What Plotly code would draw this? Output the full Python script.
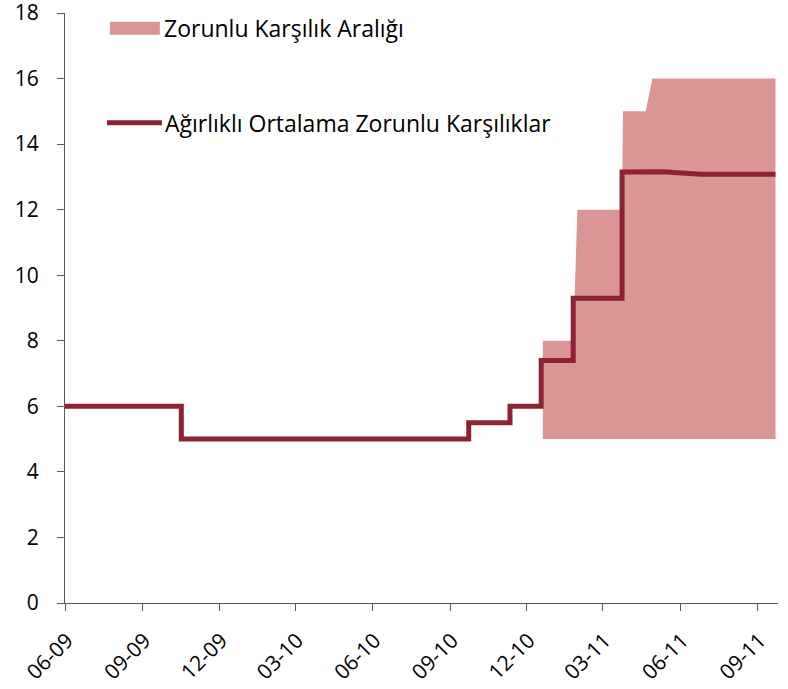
import plotly.graph_objects as go

# Weighted average required reserves (%)
line_dates = ["2009-06-01", "2009-10-17", "2009-10-17", "2010-09-23", "2010-09-23",
              "2010-11-11", "2010-11-11", "2010-12-18", "2010-12-18", "2011-01-25",
              "2011-01-25", "2011-03-24", "2011-03-24", "2011-04-14", "2011-04-27",
              "2011-05-12", "2011-06-25", "2011-09-22"]
line_values = [6, 6, 5, 5, 5.5, 5.5, 6, 6, 7.4, 7.4, 9.3, 9.3, 13.15, 13.16, 13.19,
               13.16, 13.08, 13.08]

# Required reserve range (%)
band_dates = ["2010-12-20", "2011-01-25", "2011-01-30", "2011-03-24", "2011-03-25",
              "2011-04-21", "2011-04-29", "2011-09-22"]
band_low = [5, 5, 5, 5, 5, 5, 5, 5]
band_high = [8, 8, 12, 12, 15, 15, 16, 16]

tick_vals = ["2009-06-01", "2009-09-01", "2009-12-01", "2010-03-01", "2010-06-01",
             "2010-09-01", "2010-12-01", "2011-03-01", "2011-06-01", "2011-09-01"]
tick_text = ["06-09", "09-09", "12-09", "03-10", "06-10", "09-10", "12-10", "03-11",
             "06-11", "09-11"]

band_name = "Zorunlu Karşılık Aralığı"
line_name = "Ağırlıklı Ortalama Zorunlu Karşılıklar"

BAND = "#D99694"
LINE = "#8C2232"
FONT = "Open Sans"

fig = go.Figure()
fig.add_trace(go.Scatter(x=band_dates, y=band_low, mode="lines", line=dict(width=0, color=BAND),
                         showlegend=False, hoverinfo="skip"))
fig.add_trace(go.Scatter(x=band_dates, y=band_high, mode="lines", line=dict(width=0, color=BAND),
                         fill="tonexty", fillcolor=BAND, name=band_name, showlegend=False))
fig.add_trace(go.Scatter(x=line_dates, y=line_values, mode="lines",
                         line=dict(width=5, color=LINE), name=line_name, showlegend=False))

# legend drawn manually (paper coords)
fig.add_shape(type="rect", xref="paper", yref="paper", x0=0.063, x1=0.133, y0=0.963, y1=0.985,
              fillcolor=BAND, line=dict(width=0))
fig.add_shape(type="line", xref="paper", yref="paper", x0=0.059, x1=0.136, y0=0.814, y1=0.814,
              line=dict(color=LINE, width=5))
fig.add_annotation(xref="paper", yref="paper", x=0.136, y=0.975, text=band_name,
                   showarrow=False, xanchor="left", yanchor="middle",
                   font=dict(family=FONT, size=23, color="black"))
fig.add_annotation(xref="paper", yref="paper", x=0.137, y=0.814, text=line_name,
                   showarrow=False, xanchor="left", yanchor="middle",
                   font=dict(family=FONT, size=23, color="black"))

fig.update_layout(
    width=788, height=689,
    margin=dict(l=65, r=10, t=13, b=86),
    paper_bgcolor="white", plot_bgcolor="white",
    font=dict(family=FONT, size=20, color="black"),
    xaxis=dict(type="date", range=["2009-06-01", "2011-09-25"], automargin=False,
               tickvals=tick_vals, ticktext=tick_text, tickangle=-45,
               showgrid=False, zeroline=False, showline=True, linecolor="#595959",
               linewidth=1, ticks="outside", ticklen=7, tickcolor="#595959",
               ticklabelstandoff=9, ticklabelshift=2, ticklabeloverflow="allow",
               tickfont=dict(family=FONT, size=21)),
    yaxis=dict(range=[0, 18], tickvals=list(range(0, 19, 2)), showgrid=False, automargin=False,
               zeroline=False, showline=True, linecolor="#595959", linewidth=1,
               ticks="outside", ticklen=7, tickcolor="#595959", ticklabelstandoff=14,
               ticklabeloverflow="allow",
               tickfont=dict(family=FONT, size=21)),
)

fig.write_html("out.html", post_script="document.body.style.margin='0';",
               config={"displayModeBar": False})
